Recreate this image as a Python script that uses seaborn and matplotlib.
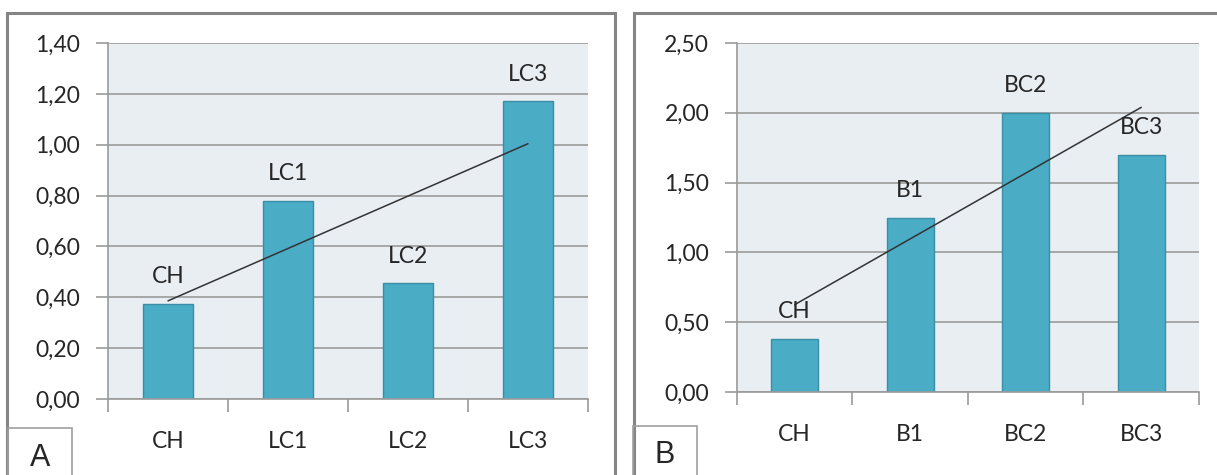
import seaborn as sns
import matplotlib.pyplot as plt
import matplotlib.patches as mpatches
from matplotlib.ticker import FuncFormatter
import numpy as np
import pandas as pd

# data
cats_a = ["CH", "LC1", "LC2", "LC3"]
vals_a = [0.375, 0.78, 0.455, 1.17]
ticks_a = [0.0, 0.2, 0.4, 0.6, 0.8, 1.0, 1.2, 1.4]

cats_b = ["CH", "B1", "BC2", "BC3"]
vals_b = [0.38, 1.25, 2.00, 1.70]
ticks_b = [0.0, 0.5, 1.0, 1.5, 2.0, 2.5]

panel_names = ["A", "B"]

sns.set_theme(style="white")
plt.rcParams['font.family'] = ['Lato', 'DejaVu Sans']

bar_col = "#4bacc6"
edge_col = "#3a8ea6"
bg_col = "#e8eef2"
grid_col = "#9a9a9a"
txt_col = "#262626"

fig = plt.figure(figsize=(12.17, 4.75), dpi=100)
W, H = 1217, 475


def fx(px):
    return px / W


def fy(py):
    return 1 - py / H


# panel frames and letter boxes
for x0, x1, bx0, bx1, by in [(7, 615, 8, 72, 428), (634, 1240, 633, 697, 426)]:
    fig.patches.append(mpatches.Rectangle((fx(x0), fy(500)), fx(x1 - x0), (500 - 13) / H,
                                          transform=fig.transFigure, fill=False,
                                          ec="#858585", lw=2.2))
    fig.patches.append(mpatches.Rectangle((fx(bx0), fy(500)), fx(bx1 - bx0), (500 - by) / H,
                                          transform=fig.transFigure, fill=False,
                                          ec="#a0a0a0", lw=1.2))

fig.text(fx(40), fy(458), "A", fontsize=22, family="Liberation Sans", ha="center", va="center")
fig.text(fx(665), fy(455), "B", fontsize=22, family="Liberation Sans", ha="center", va="center")


def draw(ax, cats, vals, ticks):
    df = pd.DataFrame({"cat": cats, "val": vals})
    ax.set_facecolor(bg_col)
    ax.set_axisbelow(True)
    ax.grid(axis="y", color=grid_col, lw=1.2)
    sns.barplot(data=df, x="cat", y="val", color=bar_col, width=0.41,
                edgecolor=edge_col, linewidth=1.0, saturation=1, ax=ax)
    # linear trend line
    xs = np.arange(len(vals))
    k, b = np.polyfit(xs, vals, 1)
    ax.plot([xs[0], xs[-1]], [k * xs[0] + b, k * xs[-1] + b], color="#333333", lw=1.1, zorder=4)
    for x, v, c in zip(xs, vals, cats):
        ax.annotate(c, (x, v), xytext=(0, 19.5), textcoords="offset points",
                    ha="center", va="center", fontsize=16.5, color=txt_col, zorder=5)
    ax.set_xlim(-0.5, len(cats) - 0.5)
    ax.set_ylim(ticks[0], ticks[-1])
    ax.set_yticks(ticks)
    ax.yaxis.set_major_formatter(FuncFormatter(lambda v, p: f"{v:.2f}".replace(".", ",")))
    ax.set_xticks(xs)
    ax.set_xticklabels(cats)
    ax.set_xticks(np.arange(-0.5, len(cats)), minor=True)
    ax.tick_params(axis="x", which="major", length=0, pad=23, labelsize=16.5, labelcolor=txt_col)
    ax.tick_params(axis="x", which="minor", length=9, width=1.2, color=grid_col, direction="out")
    ax.tick_params(axis="y", length=9, width=1.2, color=grid_col, direction="out",
                   pad=11, labelsize=16.5, labelcolor=txt_col)
    ax.tick_params(bottom=True, left=True, which="both")
    ax.set_xlabel("")
    ax.set_ylabel("")
    for s in ["top", "right"]:
        ax.spines[s].set_visible(False)
    for s in ["left", "bottom"]:
        ax.spines[s].set_color(grid_col)
        ax.spines[s].set_linewidth(1.2)


ax_a = fig.add_axes([fx(108), fy(399), fx(588 - 108), (399 - 43) / H])
ax_b = fig.add_axes([fx(737), fy(392), fx(1199 - 737), (392 - 43) / H])
draw(ax_a, cats_a, vals_a, ticks_a)
draw(ax_b, cats_b, vals_b, ticks_b)

fig.savefig("out.png", dpi=100)
